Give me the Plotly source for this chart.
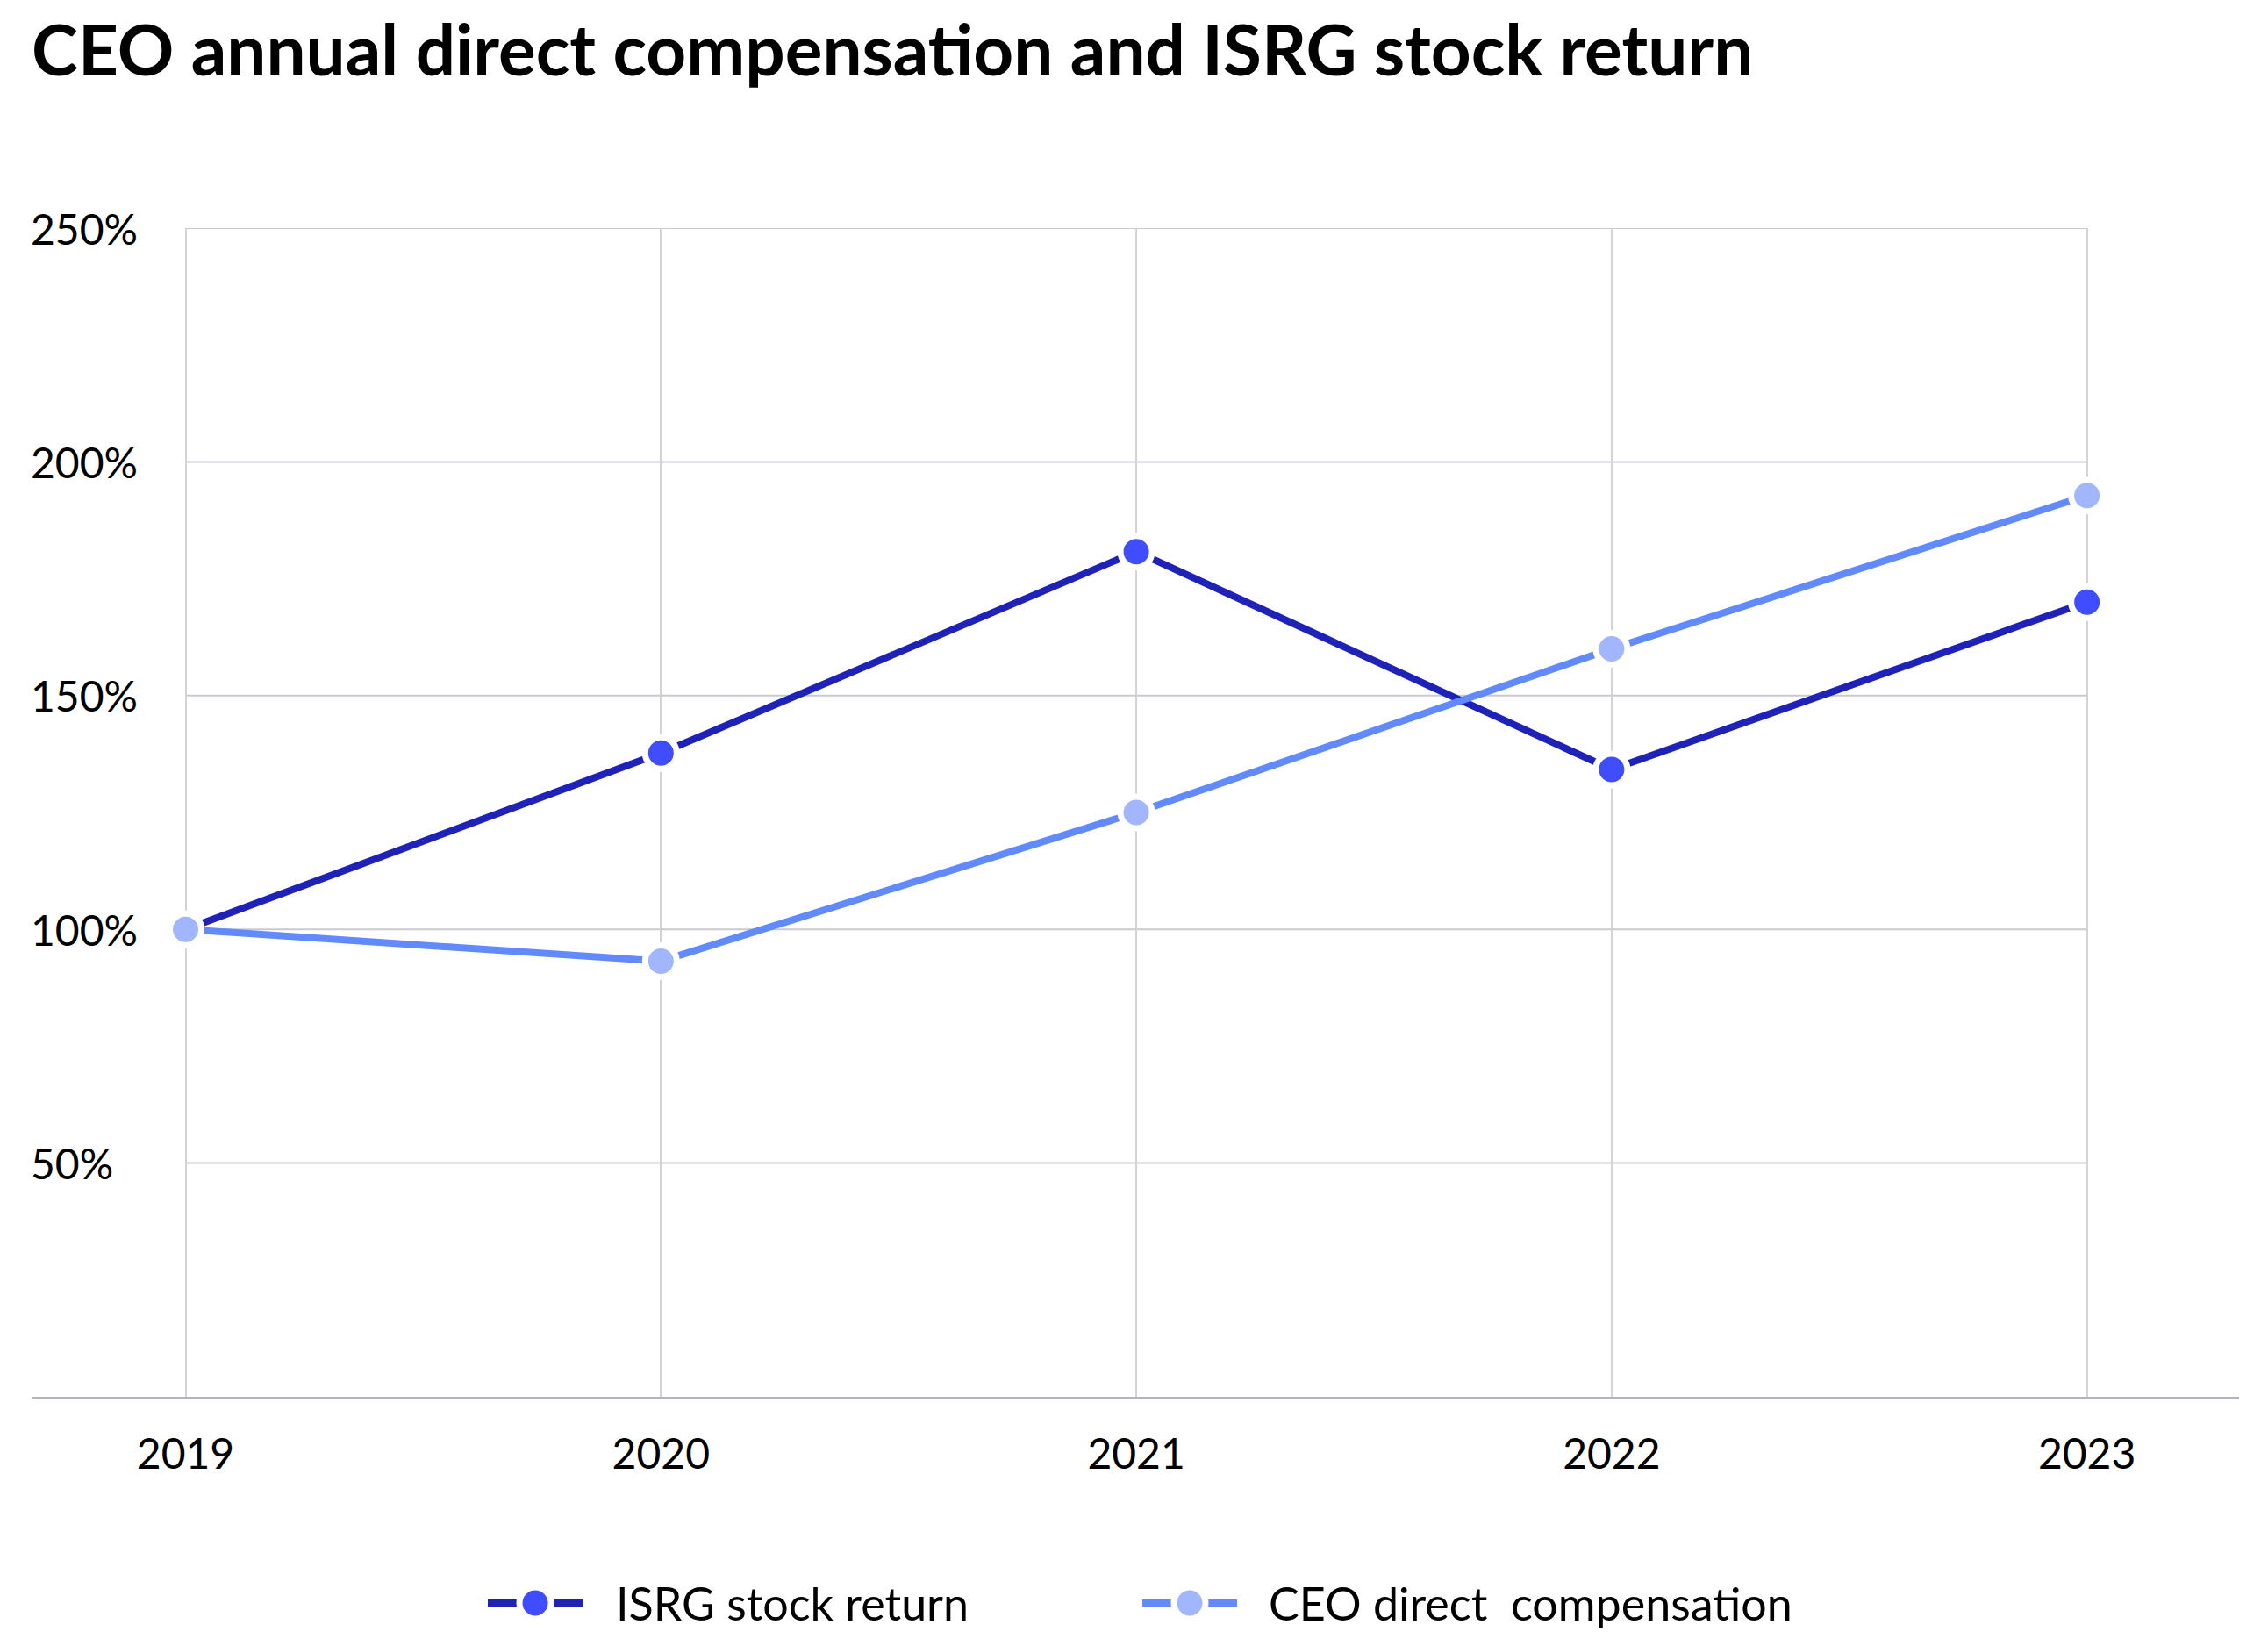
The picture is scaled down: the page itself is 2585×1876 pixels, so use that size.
import plotly.graph_objects as go

years = [2019, 2020, 2021, 2022, 2023]
isrg_return = [100, 137.7, 180.8, 134.2, 170.0]
ceo_comp = [100, 93.2, 125.0, 160.0, 192.8]
y_ticks = [50, 100, 150, 200, 250]
y_tick_labels = ["50%", "100%", "150%", "200%", "250%"]

title_text = "CEO annual direct compensation and ISRG stock return"
series_names = ["ISRG stock return", "CEO direct\u00a0 compensation"]
line_colors = ["#1e22b8", "#628aff"]
marker_colors = ["#3f4dff", "#a1b6ff"]
series_values = [isrg_return, ceo_comp]

FONT = "Lato"
# page is offset by the default 8px body margin
OX, OY = 8, 8
W, H = 2585 - 2 * OX, 1876 - 2 * OY
PL, PR, PT, PB = 36, 2552, 260, 1592          # plot area in page pixels
ML, MR, MT, MB = PL - OX, (OX + W) - PR, PT - OY, (OY + H) - PB


def px_to_paper_x(px):
    return (px - PL) / (PR - PL)


def py_to_paper_y(py):
    return (PB - py) / (PB - PT)


fig = go.Figure()
for name, vals, lc, mc in zip(series_names, series_values, line_colors, marker_colors):
    fig.add_trace(go.Scatter(
        x=years, y=vals, name=name, mode="lines+markers",
        line=dict(color=lc, width=8),
        marker=dict(color=mc, size=36, line=dict(color="white", width=7)),
        showlegend=False,
    ))

# horizontal gridlines spanning only the first to last year
for v in y_ticks:
    fig.add_shape(type="line", xref="x", yref="y", x0=years[0], x1=years[-1], y0=v, y1=v,
                  line=dict(color="#c9c9cf", width=2), layer="below")

# y tick labels, left aligned at the left edge
for v, t in zip(y_ticks, y_tick_labels):
    fig.add_annotation(text=t, xref="paper", yref="y", x=px_to_paper_x(33), y=v,
                       xanchor="left", yanchor="middle", showarrow=False,
                       font=dict(family=FONT, size=48, color="black"))

# custom legend
leg_y = py_to_paper_y(1827)
legend_items = [(556, 664, 610, 700), (1302, 1410, 1356, 1444)]
for (x0, x1, xm, xt), name, lc, mc in zip(legend_items, series_names, line_colors, marker_colors):
    fig.add_shape(type="line", xref="paper", yref="paper",
                  x0=px_to_paper_x(x0), x1=px_to_paper_x(x1), y0=leg_y, y1=leg_y,
                  line=dict(color=lc, width=8))
    fig.add_shape(type="circle", xref="paper", yref="paper",
                  xsizemode="pixel", ysizemode="pixel",
                  xanchor=px_to_paper_x(xm), yanchor=leg_y,
                  x0=-18, x1=18, y0=-18, y1=18,
                  fillcolor=mc, line=dict(color="white", width=7))
    fig.add_annotation(text=name, xref="paper", yref="paper", x=px_to_paper_x(xt), y=leg_y,
                       xanchor="left", yanchor="middle", showarrow=False,
                       font=dict(family=FONT, size=52, color="black"))

fig.update_layout(
    width=W, height=H,
    margin=dict(l=ML, r=MR, t=MT, b=MB),
    paper_bgcolor="white", plot_bgcolor="white",
    font=dict(family=FONT, size=48, color="black"),
    title=dict(text=title_text, x=(36 - OX) / W, xanchor="left", xref="container",
               y=1 - (58 - OY) / H, yanchor="middle", yref="container",
               font=dict(family=FONT, size=80, color="black", weight="bold")),
    showlegend=False,
    xaxis=dict(range=[2018.676, 2023.32], tickvals=years, ticktext=[str(y) for y in years],
               showgrid=True, gridcolor="#d2d2d8", gridwidth=2,
               showline=True, linecolor="#b4b4bc", linewidth=3,
               ticks="", ticklabelstandoff=21, zeroline=False,
               tickfont=dict(family=FONT, size=48, color="black")),
    yaxis=dict(range=[0, 250], showticklabels=False,
               showgrid=False, zeroline=False, showline=False, ticks=""),
)

fig.write_html("out.html")
